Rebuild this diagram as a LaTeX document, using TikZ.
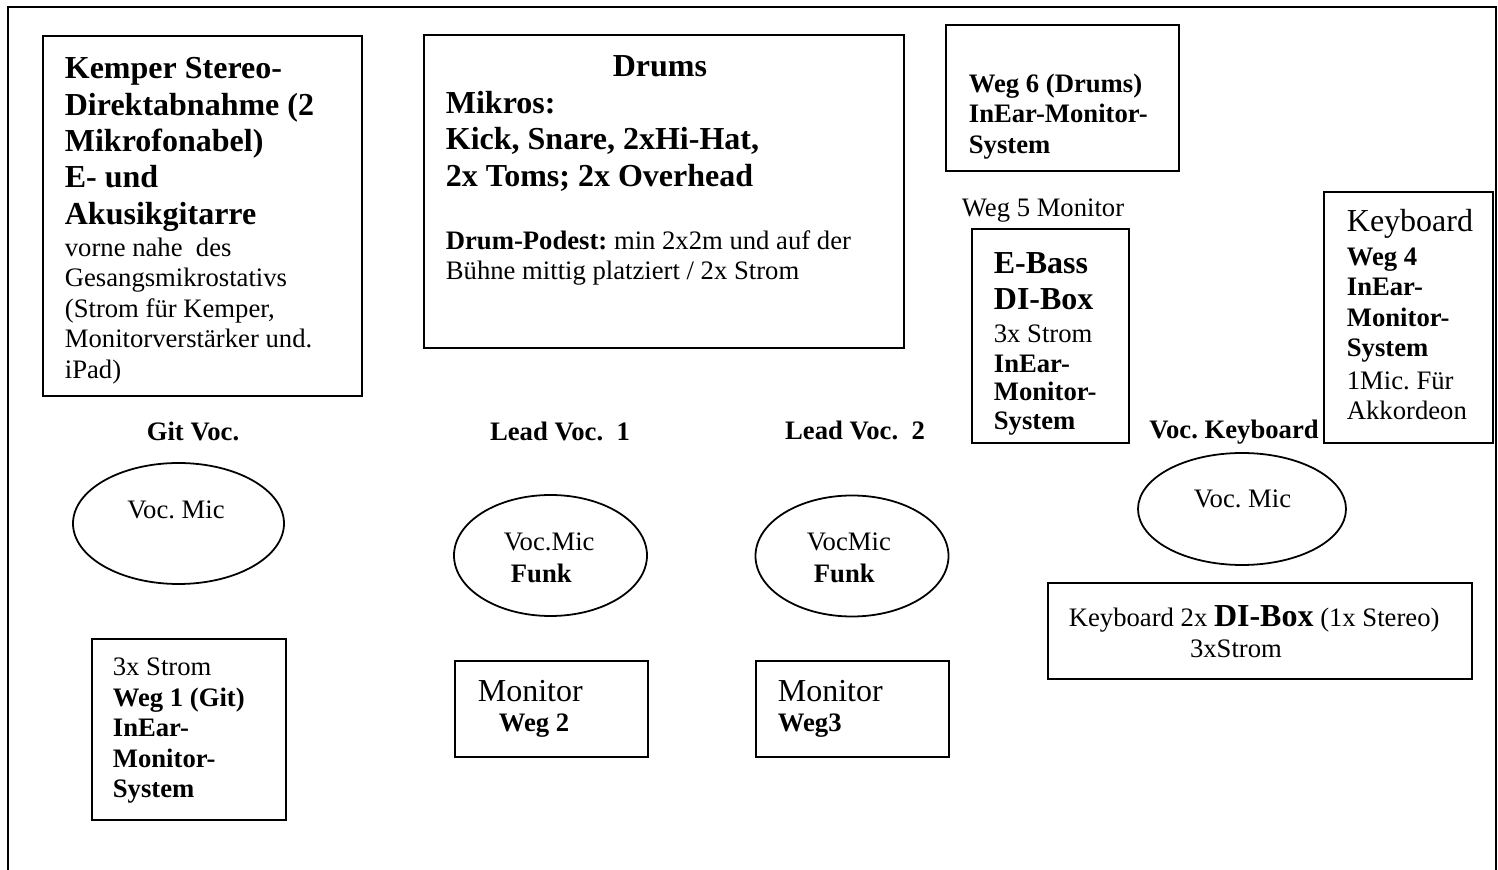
\documentclass[tikz,border=0pt]{standalone}
\usepackage{fontspec}
\setmainfont{Liberation Serif}
\frenchspacing

\begin{document}
\begin{tikzpicture}[x=0.45pt, y=-0.45pt, line width=0.8pt,
    txt/.style={inner sep=0pt, align=left, anchor=west},
    reg/.style={txt, font=\fontsize{12}{13.7}\selectfont},
    regb/.style={txt, font=\fontsize{12}{13.7}\selectfont\bfseries},
    bigr/.style={txt, font=\fontsize{14.4}{16.4}\selectfont},
    bigb/.style={txt, font=\fontsize{14.4}{16.4}\selectfont\bfseries}]
    \useasboundingbox (0,0) rectangle (1498,870);
    \draw[line width=1pt] (8,870) -- (8,7) -- (1496,7) -- (1496,870);

    \draw (43,36) rectangle (362,396);
    \node[bigb] (kemper) at (64,144.5){Kemper Stereo-\\Direktabnahme (2\\Mikrofonabel)\\E- und\\Akusikgitarre};
    \node[reg] (kemperinfo) at (64,311){vorne nahe\ \ des\\Gesangsmikrostativs\\(Strom für Kemper,\\Monitorverstärker und.\\iPad)};

    \draw (424,35) rectangle (904,348);
    \node[bigb, anchor=center] (drums) at (660,66){Drums};
    \node[bigb] (mikros) at (445,141){Mikros:\\Kick, Snare, 2xHi-Hat,\\2x Toms; 2x Overhead};
    \node[reg] (podest) at (445,258){\textbf{Drum-Podest:} min 2x2m und auf der\\Bühne mittig platziert / 2x Strom};

    \draw (946,25) rectangle (1179,171);
    \node[regb] (weg6) at (968,116.5){Weg 6 (Drums)\\InEar-Monitor-\\System};
    \node[reg] (weg5) at (961,211){Weg 5 Monitor};

    \draw (972,229) rectangle (1129,443);
    \node[bigb] (ebass) at (993,281){E-Bass\\DI-Box};
    \node[reg] (ebassstrom) at (993,334){3x Strom};
    \node[regb, font=\fontsize{12}{12.9}\selectfont\bfseries] (ebassinear) at (993,395){InEar-\\Monitor-\\System};

    \draw (1324,192) rectangle (1493,443);
    \node[bigr] (keyboard) at (1346,224){Keyboard};
    \node[regb] (weg4) at (1346,305){Weg 4\\InEar-\\Monitor-\\System};
    \node[reg] (akkordeon) at (1346,396){1Mic. Für\\Akkordeon};

    \node[regb, anchor=center] (gitvoc) at (193,431){Git Voc.};
    \node[regb, anchor=center] (lead1) at (560,431){Lead Voc.\ \ 1};
    \node[regb, anchor=center] (lead2) at (855,430){Lead Voc.\ \ 2};
    \node[regb, anchor=center] (vockeys) at (1234,432){Voc. Keyboard};

    \draw (178.5,523.5) ellipse [x radius=105.5, y radius=60.5];
    \node[reg, anchor=center] (mic1) at (176,510){Voc. Mic};

    \draw (550.5,555.5) ellipse [x radius=96.5, y radius=60.5];
    \node[reg] (mic2) at (503,542){Voc.Mic};
    \node[regb] (funk2) at (510,573){Funk};

    \draw (852,556) ellipse [x radius=96.5, y radius=60.5];
    \node[reg] (mic3) at (806,542){VocMic};
    \node[regb] (funk3) at (813,573){Funk};

    \draw (1242,509) ellipse [x radius=104, y radius=56];
    \node[reg] (mic4) at (1193,499){Voc. Mic};

    \draw (92,639) rectangle (286,820);
    \node[reg] (gitstrom) at (112,667){3x Strom};
    \node[regb] (weg1) at (112,745.5){Weg 1 (Git)\\InEar-\\Monitor-\\System};

    \draw (455,661) rectangle (648,757);
    \node[bigr] (mon2) at (477,691){Monitor};
    \node[regb] (weg2) at (498,726){Weg 2};

    \draw (756,661) rectangle (949,757);
    \node[bigr] (mon3) at (777,691){Monitor};
    \node[regb] (weg3) at (777,726){Weg3};

    \draw (1048,583) rectangle (1472,679);
    \node[reg] (kbdi) at (1068,619){Keyboard 2x \textbf{\fontsize{14.4}{16.4}\selectfont DI-Box} (1x Stereo)};
    \node[reg, anchor=center] (kbstrom) at (1236,649){3xStrom};
\end{tikzpicture}
\end{document}
